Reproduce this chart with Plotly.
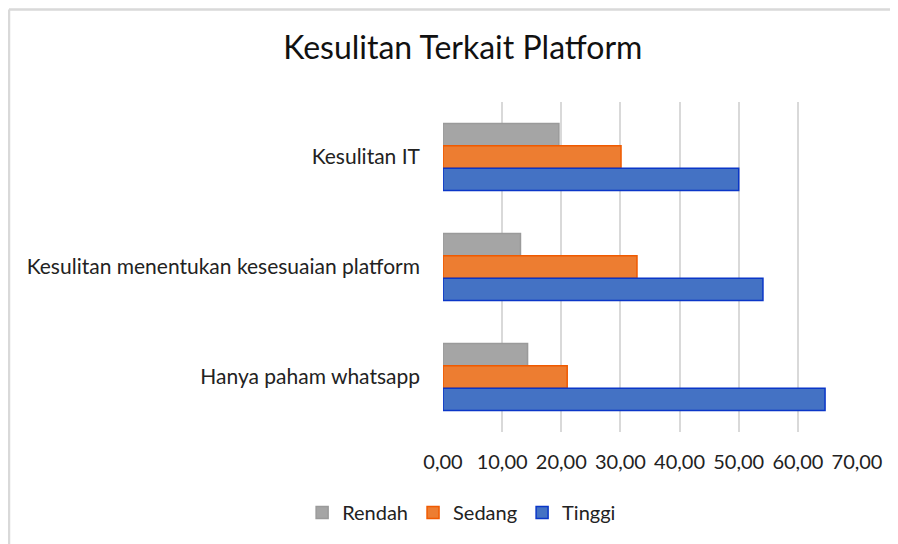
""" Import Libraries """
import plotly.graph_objects as go

""" Data """
categories = ['Kesulitan IT', 'Kesulitan menentukan kesesuaian platform', 'Hanya paham whatsapp']
rendah = [19.6, 13.1, 14.3]
sedang = [30.1, 32.8, 21.0]
tinggi = [50.0, 54.1, 64.6]

series = [('Rendah', rendah, '#A5A5A5', '#9A9A9A'),
          ('Sedang', sedang, '#ED7D31', '#F05A00'),
          ('Tinggi', tinggi, '#4472C4', '#0A36C8')]

""" Figure """
fig = go.Figure()
for name, vals, fill, edge in series:
    fig.add_trace(go.Bar(y=categories, x=vals, name=name, orientation='h',
                         marker=dict(color=fill, line=dict(color=edge, width=1.5))))

font = 'Lato, Open Sans, sans-serif'

# page body has an 8px margin, so the figure is 8px smaller than the window
fig.update_layout(
    width=890, height=536,
    barmode='group', bargap=0.39, bargroupgap=0,
    separators=',.',
    font=dict(family=font, size=20, color='#222222'),
    title=dict(text='Kesulitan Terkait Platform', x=0.511, xanchor='center',
               y=0.925, yanchor='middle', font=dict(size=32, color='#111111')),
    margin=dict(l=435, r=41, t=94, b=110),
    plot_bgcolor='white', paper_bgcolor='white',
    legend=dict(orientation='h', x=0.045, xanchor='center', y=-0.244, yanchor='middle',
                font=dict(size=20), traceorder='normal', itemwidth=30),
    xaxis=dict(range=[0, 70], dtick=10, tickformat='.2f', showgrid=True,
               gridcolor='#D9D9D9', gridwidth=1.5, zeroline=False,
               ticklabelstandoff=16, fixedrange=True),
    yaxis=dict(autorange='reversed', showgrid=False, ticklabelstandoff=22,
               tickfont=dict(size=21), fixedrange=True),
)

# chart frame (only left and top edges are visible)
left = (1 - 435) / 414
top = (426 - 1) / 332
frame = dict(color='#D9D9D9', width=2.5)
fig.add_shape(type='line', xref='paper', yref='paper', x0=left, x1=left, y0=-0.5, y1=top,
              line=frame, layer='below')
fig.add_shape(type='line', xref='paper', yref='paper', x0=left, x1=1.3, y0=top, y1=top,
              line=frame, layer='below')

fig.write_html("out.html")
